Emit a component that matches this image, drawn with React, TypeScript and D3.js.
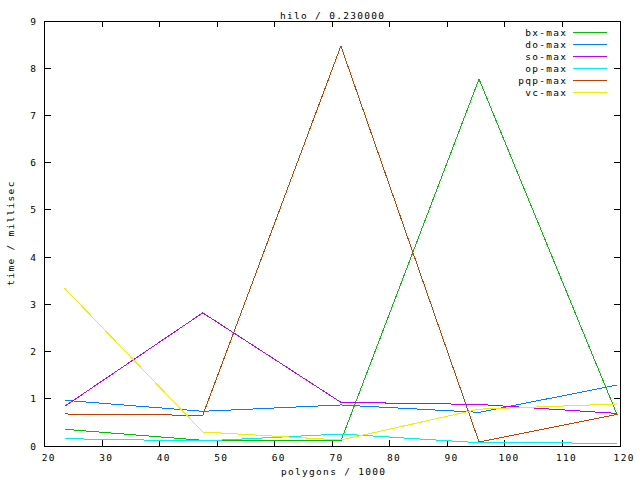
import React from "react";
import * as d3 from "d3";

const xValues = [23.5, 47.5, 71.5, 95.5, 119.5];
const seriesNames = ["bx-max", "do-max", "so-max", "op-max", "pqp-max", "vc-max"];
const seriesColors = ["#00c000", "#0080ff", "#c000ff", "#00eeee", "#c04000", "#eeee00"];
const bxMax = [0.354, 0.12, 0.106, 7.77, 0.66];
const doMax = [0.968, 0.735, 0.869, 0.713, 1.29];
const soMax = [0.84, 2.82, 0.925, 0.88, 0.69];
const opMax = [0.155, 0.106, 0.254, 0.07, 0.06];
const pqpMax = [0.678, 0.65, 8.47, 0.085, 0.67];
const vcMax = [3.34, 0.297, 0.127, 0.78, 0.89];
const seriesValues = [bxMax, doMax, soMax, opMax, pqpMax, vcMax];
const xTicks = [20, 30, 40, 50, 60, 70, 80, 90, 100, 110, 120];
const yTicks = [0, 1, 2, 3, 4, 5, 6, 7, 8, 9];
const title = "hilo / 0.230000";
const xLabel = "polygons / 1000";
const yLabel = "time / millisec";

export default function App() {
  const W = 640, H = 480;
  const left = 44.5, right = 620, top = 21, bottom = 446;
  const x = d3.scaleLinear().domain([20, 120]).range([left, right]);
  const y = d3.scaleLinear().domain([0, 9]).range([bottom, top]);
  const line = d3.line<number>().x((_, i) => x(xValues[i])).y((d) => y(d));
  const font = "'DejaVu Sans Mono', monospace";
  const fs = 9.5;
  const ls = 1.3;
  const tl = 6;
  return (
    <svg width={W} height={H} style={{ position: "absolute", left: 0, top: 0, background: "#fff" }}
      fontFamily={font} fontSize={fs} letterSpacing={ls}>
      <rect x={0} y={0} width={W} height={H} fill="#fff" />
      {/* ticks */}
      <g stroke="#000" strokeWidth={1} shapeRendering="crispEdges">
        {xTicks.map((t) => (
          <g key={"xt" + t}>
            <line x1={x(t)} x2={x(t)} y1={bottom} y2={bottom - tl} />
            <line x1={x(t)} x2={x(t)} y1={top} y2={top + tl} />
          </g>
        ))}
        {yTicks.map((t) => (
          <g key={"yt" + t}>
            <line x1={left} x2={left + tl} y1={y(t)} y2={y(t)} />
            <line x1={right} x2={right - tl} y1={y(t)} y2={y(t)} />
          </g>
        ))}
        <rect x={left} y={top} width={right - left} height={bottom - top} fill="none" />
      </g>
      {xTicks.map((t) => (
        <text key={"xl" + t} x={x(t) + 3.5 + ls / 2} y={461} textAnchor="middle" fill="#000">{t}</text>
      ))}
      {yTicks.map((t) => (
        <text key={"yl" + t} x={36 + ls} y={y(t) + 3.5} textAnchor="end" fill="#000">{t}</text>
      ))}
      <text x={332 + ls / 2} y={18.5} textAnchor="middle" fill="#000">{title}</text>
      <text x={333 + ls / 2} y={474.5} textAnchor="middle" fill="#000">{xLabel}</text>
      <text transform={`translate(14,233) rotate(-90)`} textAnchor="middle" fill="#000">{yLabel}</text>
      {/* series */}
      <g fill="none" strokeWidth={1} shapeRendering="crispEdges">
        {seriesValues.map((vals, i) => (
          <path key={seriesNames[i]} d={line(vals) || ""} stroke={seriesColors[i]} />
        ))}
      </g>
      {/* legend */}
      {seriesNames.map((n, i) => (
        <g key={"lg" + n}>
          <text x={566 + ls} y={32.7 + i * 12 + 3.5} textAnchor="end" fill="#000">{n}</text>
          <line x1={573} x2={607} y1={32.5 + i * 12} y2={32.5 + i * 12} stroke={seriesColors[i]}
            strokeWidth={1} shapeRendering="crispEdges" />
        </g>
      ))}
    </svg>
  );
}
